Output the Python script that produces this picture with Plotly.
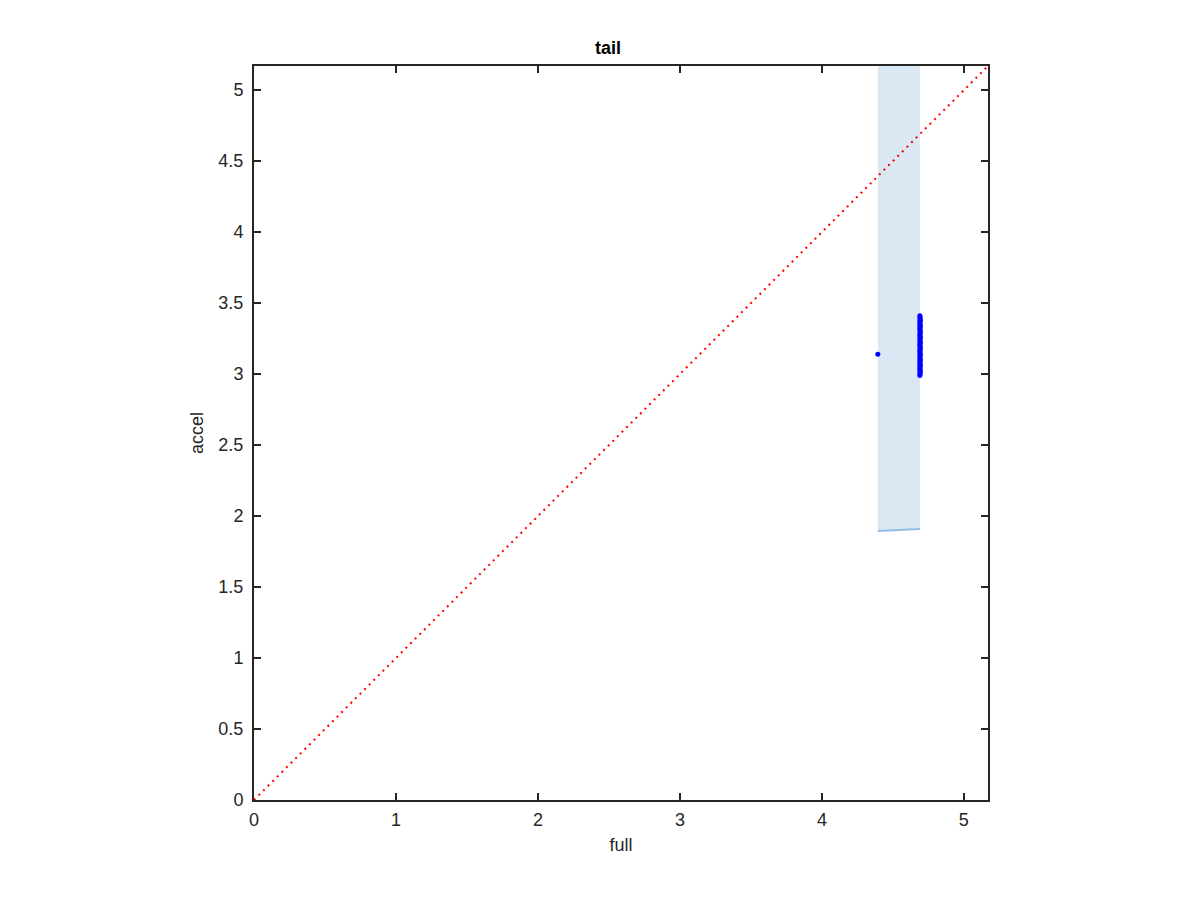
import plotly.graph_objects as go

# data
band_x = [4.394, 4.69]
band_low = [1.894, 1.908]
band_high = [5.4, 5.4]
diag = [0, 5.17]
pts_x = [4.394,
         4.69, 4.692, 4.69, 4.694, 4.69, 4.692, 4.69, 4.694, 4.69, 4.692, 4.69, 4.694,
         4.69, 4.692, 4.69, 4.694, 4.69, 4.692, 4.69, 4.694, 4.69, 4.692, 4.69, 4.694,
         4.69, 4.692, 4.69, 4.694, 4.69, 4.692, 4.69, 4.694, 4.69, 4.692, 4.69, 4.694,
         4.69, 4.692, 4.69, 4.694, 4.69, 4.692, 4.69]
pts_y = [3.14,
         3.41, 3.40, 3.39, 3.38, 3.37, 3.36, 3.35, 3.34, 3.33, 3.32, 3.31, 3.30,
         3.29, 3.28, 3.27, 3.26, 3.25, 3.24, 3.23, 3.22, 3.21, 3.20, 3.19, 3.18,
         3.17, 3.16, 3.15, 3.14, 3.13, 3.12, 3.11, 3.10, 3.09, 3.08, 3.07, 3.06,
         3.05, 3.04, 3.03, 3.02, 3.01, 3.00, 2.99]
x_ticks = [0, 1, 2, 3, 4, 5]
y_ticks = [0, 0.5, 1, 1.5, 2, 2.5, 3, 3.5, 4, 4.5, 5]
y_tick_labels = ["0", "0.5", "1", "1.5", "2", "2.5", "3", "3.5", "4", "4.5", "5"]
axis_range = [0, 5.17]

fig = go.Figure()
fig.add_trace(go.Scatter(
    x=band_x + band_x[::-1], y=band_low + band_high[::-1],
    fill="toself", fillcolor="#d9e8f3", line=dict(width=0), mode="lines",
    hoverinfo="skip", showlegend=False))
fig.add_trace(go.Scatter(
    x=band_x, y=band_low, mode="lines", line=dict(color="#8fbde6", width=2),
    showlegend=False))
fig.add_trace(go.Scatter(
    x=diag, y=diag, mode="lines", line=dict(color="#ff0000", width=2, dash="2px,4.5px"),
    showlegend=False))
fig.add_trace(go.Scatter(
    x=pts_x, y=pts_y, mode="markers", marker=dict(color="#0000ff", size=5),
    showlegend=False))

font_name = "Liberation Sans, Arial"
axis_common = dict(
    range=axis_range, showgrid=False, zeroline=False, showline=True, mirror="ticks",
    linecolor="#262626", linewidth=2, ticks="inside", ticklen=7, tickwidth=1.5,
    tickcolor="#262626", tickfont=dict(family=font_name, size=18, color="#262626"),
)
fig.update_xaxes(**axis_common, tickvals=x_ticks, ticklabelstandoff=2,
                 title=dict(text="full", font=dict(family=font_name, size=18, color="#262626"), standoff=10))
fig.update_yaxes(**axis_common, tickvals=y_ticks, ticktext=y_tick_labels, ticklabelstandoff=5,
                 title=dict(text="accel", font=dict(family=font_name, size=18, color="#262626"), standoff=10))

fig.update_layout(
    width=1200, height=900,
    margin=dict(l=246, r=220, t=58, b=108),
    plot_bgcolor="white", paper_bgcolor="white",
    title=dict(text="<b>tail</b>", x=0.5, xanchor="center", y=0.9556, yanchor="middle",
               font=dict(family=font_name, size=18, color="#000000")),
)

fig.write_html("out.html")
